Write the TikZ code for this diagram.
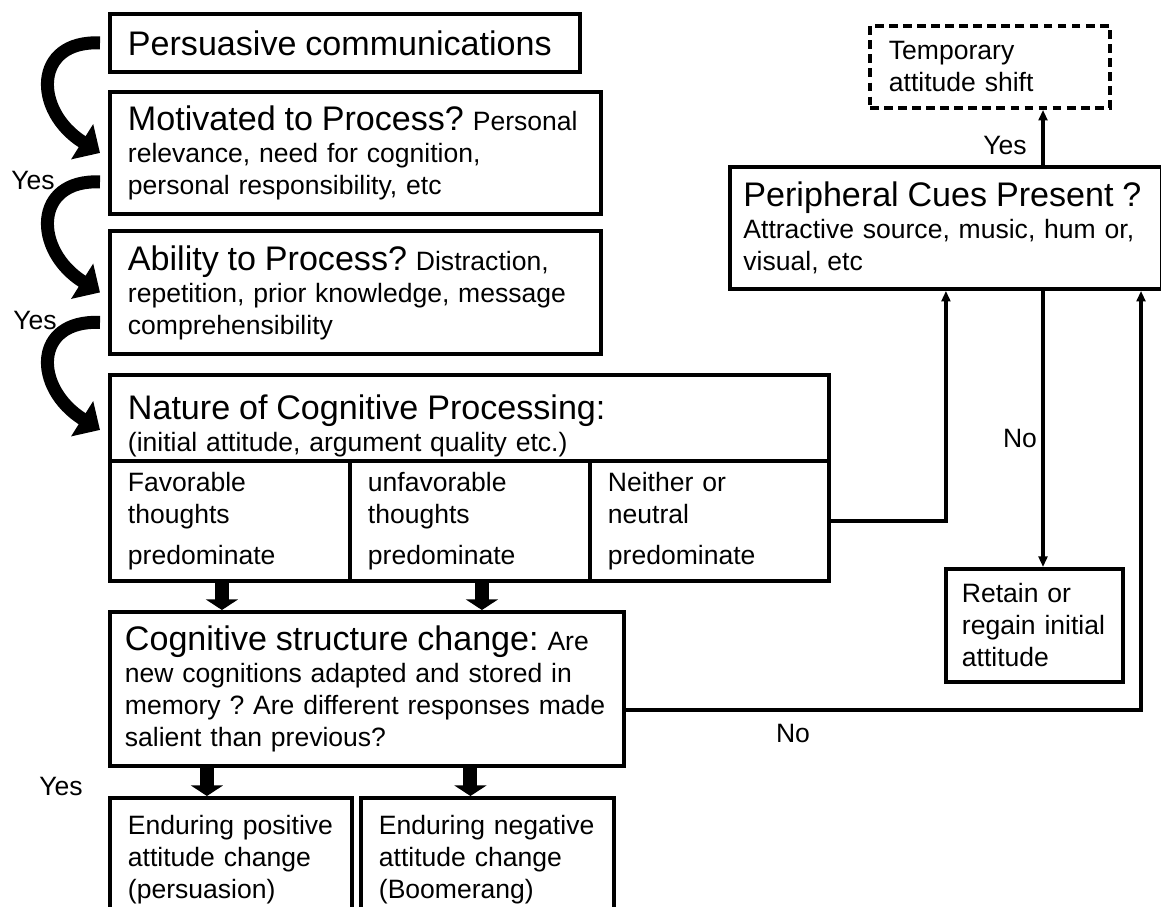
\documentclass[tikz,border=0pt]{standalone}
\usepackage{fontspec}
\setmainfont{Liberation Sans}
\usetikzlibrary{arrows.meta}
\frenchspacing
\newcommand{\hdsize}{\fontsize{19.4}{22}\selectfont}
\newcommand{\txsize}{\fontsize{15.1}{18.2}\selectfont}

\begin{document}
\begin{tikzpicture}[font=\txsize,
    box/.style={draw, line width=2.2pt, anchor=north west, align=left, inner xsep=0.36cm, inner ysep=0pt},
    link/.style={line width=1.8pt, -{Triangle[width=5pt,length=6pt]}},
    blockarrow/.style={line width=8pt, -{Triangle[width=18pt,length=6pt]}},
    curvearrow/.style={line width=7.4pt, -{Triangle[width=23pt,length=12pt]}}]
    \useasboundingbox (0,0) rectangle (23.22,-18.12);
    \node[box, text width=8.68cm, minimum height=1.16cm] (persuade) at (2.16,-0.24) {\hdsize Persuasive communications};
    \node[box, text width=9.1cm, minimum height=2.44cm] (motiv) at (2.16,-1.8) {{\hdsize Motivated to Process?} Personal\\relevance, need for cognition,\\personal responsibility, etc};
    \node[box, text width=9.1cm, minimum height=2.46cm] (ability) at (2.16,-4.58) {{\hdsize Ability to Process?} Distraction,\\repetition, prior knowledge, message\\comprehensibility};
    \node[box, text width=13.66cm, minimum height=1.72cm] (nature) at (2.16,-7.46) {\rule{0pt}{23pt}{\hdsize Nature of Cognitive Processing:}\\(initial attitude, argument quality etc.)};
    \node[box, text width=4.08cm, minimum height=2.4cm] (fav) at (2.16,-9.18) {Favorable\\thoughts\\[5pt]predominate};
    \node[box, text width=4.08cm, minimum height=2.4cm] (unfav) at (6.96,-9.18) {unfavorable\\thoughts\\[5pt]predominate};
    \node[box, text width=4.06cm, minimum height=2.4cm] (neither) at (11.76,-9.18) {Neither or\\neutral\\[5pt]predominate};
    \node[box, text width=9.68cm, minimum height=3.08cm, inner xsep=0.3cm] (cogstr) at (2.16,-12.2) {{\hdsize Cognitive structure change:} Are\\new cognitions adapted and stored in\\memory ? Are different responses made\\salient than previous?};
    \node[box, text width=4.12cm, minimum height=2.46cm] (positive) at (2.16,-15.92) {Enduring positive\\attitude change\\(persuasion)};
    \node[box, text width=4.34cm, minimum height=2.46cm] (negative) at (7.18,-15.92) {Enduring negative\\attitude change\\(Boomerang)};
    \node[box, text width=8.1cm, minimum height=2.44cm, inner xsep=0.27cm] (periph) at (14.56,-3.3) {{\hdsize Peripheral Cues Present~?}\\Attractive source, music, hum or,\\visual, etc};
    \node[box, dash pattern=on 5pt off 3pt, text width=4.04cm, minimum height=1.64cm, inner xsep=0.38cm] (temp) at (17.36,-0.48) {Temporary\\attitude shift};
    \node[box, text width=2.9cm, minimum height=2.26cm, inner xsep=0.32cm] (retain) at (18.88,-11.34) {Retain or\\regain initial\\attitude};

    \draw[curvearrow] ([xshift=-0.16cm]persuade.west) .. controls +(-1.34,0.06) and +(-1.34,0.84) .. ([xshift=-0.16cm]motiv.west);
    \draw[curvearrow] ([shift={(-0.16,-0.58)}]motiv.west) .. controls +(-1.34,0.06) and +(-1.34,0.84) .. ([xshift=-0.16cm]ability.west);
    \draw[curvearrow] ([shift={(-0.16,-0.6)}]ability.west) .. controls +(-1.34,0.06) and +(-1.34,0.84) .. ([shift={(-0.16,-0.24)}]nature.west);

    \draw[blockarrow] ([xshift=-0.16cm]fav.south) -- ([xshift=-0.16cm]fav.south |- cogstr.north);
    \draw[blockarrow] ([xshift=0.24cm]unfav.south) -- ([xshift=0.24cm]unfav.south |- cogstr.north);
    \draw[blockarrow] ([xshift=-0.48cm]positive.north |- cogstr.south) -- ([xshift=-0.48cm]positive.north);
    \draw[blockarrow] ([xshift=-0.34cm]negative.north |- cogstr.south) -- ([xshift=-0.34cm]negative.north);

    \coordinate (ycol) at (20.86,0);
    \coordinate (rcol) at (22.82,0);
    \draw[link] (periph.north -| ycol) -- (temp.south -| ycol);
    \draw[link] (periph.south -| ycol) -- (retain.north -| ycol);
    \draw[link] (neither.east) -| (periph.south);
    \draw[link] ([yshift=-0.42cm]cogstr.east) -| (periph.south -| rcol);

    \node (yesa) at (0.66,-3.6) {Yes};
    \node (yesb) at (0.70,-6.4) {Yes};
    \node (yesc) at (1.22,-15.72) {Yes};
    \node (yesd) at (20.1,-2.9) {Yes};
    \node (noa) at (20.4,-8.76) {No};
    \node (nob) at (15.86,-14.66) {No};
  \end{tikzpicture}
\end{document}
